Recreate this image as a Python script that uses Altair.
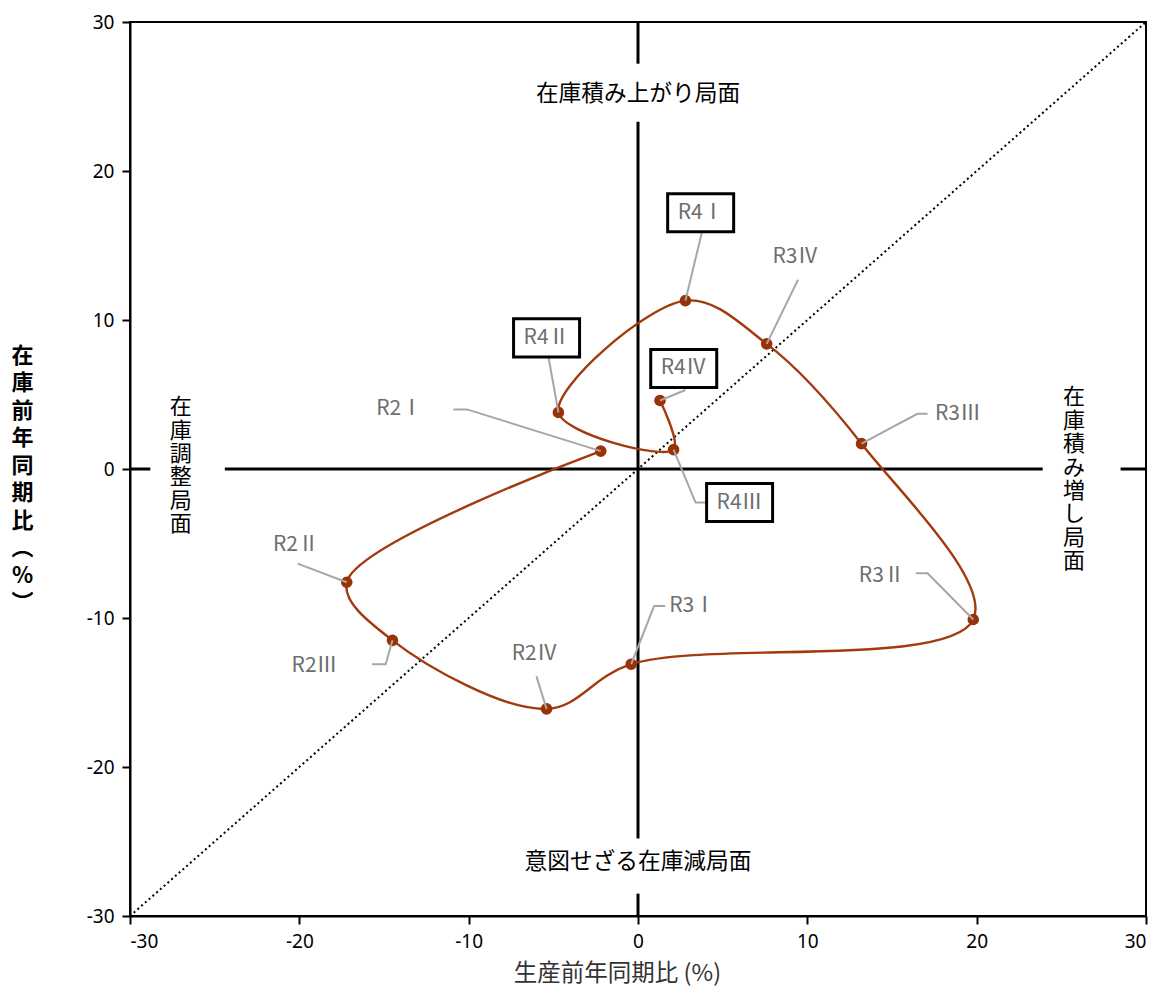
import altair as alt
import pandas as pd

# ---- data ----
labels = ["R2Ⅰ", "R2Ⅱ", "R2Ⅲ", "R2Ⅳ", "R3Ⅰ", "R3Ⅱ", "R3Ⅲ", "R3Ⅳ", "R4Ⅰ", "R4Ⅱ", "R4Ⅲ", "R4Ⅳ"]
production = [-2.2, -17.2, -14.5, -5.4, -0.4, 19.8, 13.2, 7.6, 2.8, -4.7, 2.1, 1.3]
inventory = [1.2, -7.6, -11.5, -16.1, -13.1, -10.1, 1.7, 8.4, 11.3, 3.8, 1.3, 4.6]
boxed = [False, False, False, False, False, False, False, False, True, True, True, True]

# label anchor positions (data units)
label_x = [-14.1, -20.2, -19.1, -6.1, 3.2, 14.4, 18.9, 9.3, 3.7, -5.4, 6.0, 2.7]
label_y = [4.0, -5.1, -13.2, -12.4, -9.2, -7.2, 3.7, 14.2, 17.2, 8.8, -2.25, 6.75]

# leader line vertices (data units), from label side to point
leader_x = [[-10.9, -10.1, -2.2], [-20.1, -17.2], [-15.7, -14.9, -14.5], [-6.0, -5.4],
            [1.6, 0.95, -0.4], [16.4, 17.1, 19.8], [17.1, 16.5, 13.2], [9.45, 7.6],
            [3.8, 2.8], [-5.3, -4.7], [4.1, 3.4, 2.1], [2.8, 1.3]]
leader_y = [[4.0, 4.0, 1.2], [-6.35, -7.6], [-13.1, -13.1, -11.5], [-13.9, -16.1],
            [-9.2, -9.2, -13.1], [-7.0, -7.0, -10.1], [3.7, 3.7, 1.7], [12.7, 8.4],
            [16.0, 11.3], [7.6, 3.8], [-2.25, -2.25, 1.3], [5.3, 4.6]]

# zero lines, broken around the phase texts
seg_x1 = [0, 0, 0, -30, -24.4, 28.5]
seg_x2 = [0, 0, 0, -28.8, 23.9, 30]
seg_y1 = [30, 23.3, -28.5, 0, 0, 0]
seg_y2 = [27.2, -24.8, -30, 0, 0, 0]

diag = [-30, 30]

phase_text = ["在庫積み上がり局面", "意図せざる在庫減局面"]
phase_x = [0, 0]
phase_y = [25.2, -26.4]
left_phase = "在庫調整局面"
right_phase = "在庫積み増し局面"
vphase_x = [-27.0, 25.75]
vphase_y = [4.15, 4.8]   # position of the first character

ticks = [-30, -20, -10, 0, 10, 20, 30]

# ---- tables ----
pts = pd.DataFrame({"label": labels, "x": production, "y": inventory,
                    "seq": list(range(len(labels))), "boxed": boxed,
                    "lx": label_x, "ly": label_y})
lead_rows = []
for i, lab in enumerate(labels):
    for j, (a, b) in enumerate(zip(leader_x[i], leader_y[i])):
        lead_rows.append({"label": lab, "k": j, "x": a, "y": b})
leads = pd.DataFrame(lead_rows)
segs = pd.DataFrame({"x": seg_x1, "x2": seg_x2, "y": seg_y1, "y2": seg_y2})
diag_df = pd.DataFrame({"x": diag, "y": diag})
phase_df = pd.DataFrame({"t": phase_text, "x": phase_x, "y": phase_y})
vphase_df = pd.DataFrame({"t": [list(left_phase), list(right_phase)], "x": vphase_x, "y": vphase_y})

xs = alt.Scale(domain=[-30, 30], nice=False, zero=False)
ys = alt.Scale(domain=[-30, 30], nice=False, zero=False)

ytitle = list("在庫前年同期比") + ["︵", "%", "︶"]

xenc = alt.X("x:Q", scale=xs, axis=alt.Axis(values=ticks, title="生産前年同期比 (%)", grid=False,
                                            titleX=487, titleY=64, titleBaseline="alphabetic",
                                            titleFontSize=23.5, titleFontWeight="normal",
                                            titleColor="#333333", labelPadding=8,
                                            labelExpr="'' + datum.value"))
yenc = alt.Y("y:Q", scale=ys, axis=alt.Axis(values=ticks, title=ytitle, grid=False,
                                            titleAngle=0, titleX=-108, titleY=333,
                                            titleAlign="center", titleBaseline="middle",
                                            titleLineHeight=27.5, titleFontSize=22,
                                            titleFontWeight="bold", labelPadding=8,
                                            labelExpr="'' + datum.value"))

base_diag = alt.Chart(diag_df).mark_line(color="black", strokeDash=[2, 3], strokeWidth=2).encode(
    x=xenc, y=yenc)

zero_lines = alt.Chart(segs).mark_rule(color="black", strokeWidth=3).encode(
    x="x:Q", x2="x2:Q", y="y:Q", y2="y2:Q")

curve = alt.Chart(pts).mark_line(color="#A23A0C", strokeWidth=2.4, interpolate="catmull-rom").encode(
    x="x:Q", y="y:Q", order="seq:Q")

dots = alt.Chart(pts).mark_circle(color="#9A3208", size=135, opacity=1).encode(x="x:Q", y="y:Q")

leaders = alt.Chart(leads).mark_line(color="#A6A6A6", strokeWidth=2).encode(
    x="x:Q", y="y:Q", detail="label:N", order="k:Q")

box_shape = "M-1,-0.576L1,-0.576L1,0.576L-1,0.576Z"
boxes = alt.Chart(pts).transform_filter("datum.boxed").mark_point(
    shape=box_shape, size=4356, fill="white", stroke="black", strokeWidth=3, opacity=1,
    filled=False).encode(x="lx:Q", y="ly:Q")

label_text = alt.Chart(pts).mark_text(font="Noto Sans CJK JP", fontSize=21, color="#6E6E6E",
                                      align="center", baseline="middle").encode(
    x="lx:Q", y="ly:Q", text="label:N")

phase = alt.Chart(phase_df).mark_text(font="Noto Sans CJK JP", fontSize=22.7, color="black",
                                      align="center", baseline="middle").encode(
    x="x:Q", y="y:Q", text="t:N")

vphase = alt.Chart(vphase_df).mark_text(font="Noto Sans CJK JP", fontSize=22, color="black",
                                        align="center", baseline="middle", lineHeight=23.4).encode(
    x="x:Q", y="y:Q", text="t")

chart = alt.layer(base_diag, zero_lines, curve, dots, leaders, boxes, label_text, phase, vphase).properties(
    width=1016, height=894,
    padding={"left": 122, "top": 14, "right": 5, "bottom": 75},
    autosize=alt.AutoSizeParams(type="none"),
    background="white",
).configure_view(stroke="black", strokeWidth=2).configure_axis(
    domainColor="black", domainWidth=2, tickColor="black", tickWidth=2, tickSize=8,
    labelFont="Noto Sans", labelFontSize=19, labelColor="black",
    titleFont="Noto Sans CJK JP", titleColor="black",
)

chart.save("out.html", embed_options={"renderer": "svg", "actions": False})
